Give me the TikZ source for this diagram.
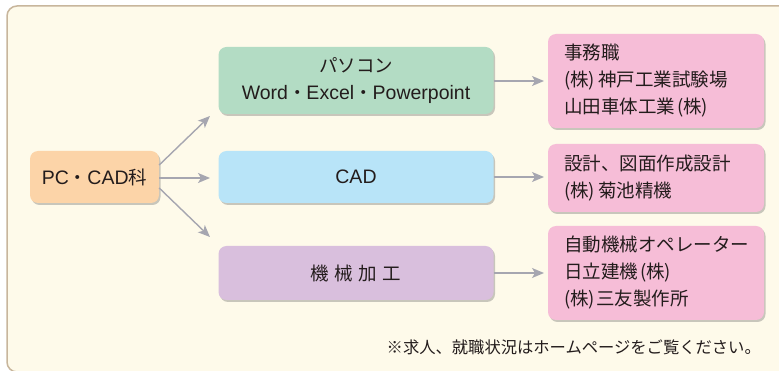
\documentclass[tikz,border=0pt]{standalone}
\usepackage{fontspec}
\setmainfont{Noto Sans CJK JP}
\newfontfamily\latfont{Liberation Sans}
\usetikzlibrary{arrows.meta,shadows}
\definecolor{bgcream}{RGB}{254,250,234}
\definecolor{bordertan}{RGB}{200,182,156}
\definecolor{pcorange}{RGB}{252,212,168}
\definecolor{pcgreen}{RGB}{179,220,196}
\definecolor{cadblue}{RGB}{184,228,248}
\definecolor{mechpurple}{RGB}{217,191,221}
\definecolor{jobpink}{RGB}{246,189,215}
\definecolor{arrowgray}{RGB}{166,166,176}
\definecolor{txt}{RGB}{35,28,28}
\newcommand{\lt}[1]{{\latfont\fontsize{19.5}{27}\selectfont #1}}
\tikzset{
  box/.style={rounded corners=8pt, text=txt, inner sep=0pt, align=center,
    font=\fontsize{18.5}{27}\selectfont,
    drop shadow={opacity=0.35, shadow xshift=1.5pt, shadow yshift=-2pt, fill=black!60}},
  jobbox/.style={box, fill=jobpink, minimum width=216pt, text width=184pt,
    inner xsep=16pt, align=left},
  conn/.style={draw=arrowgray, line width=1.4pt,
    -{Stealth[length=12pt,width=10pt,inset=3pt]}}
}
\begin{document}
\begin{tikzpicture}[x=1pt,y=-1pt]
\useasboundingbox (0,0) rectangle (779,371);
\clip (0,0) rectangle (779,371);
\fill[white] (0,0) rectangle (779,371);
\draw[fill=bgcream, draw=bordertan, line width=1.5pt, rounded corners=10pt] (7,6) rectangle (820,372);

\node[box, fill=pcorange, minimum width=129pt, minimum height=52pt] (pc) at (94.5,177) {\lt{PC}・\lt{CAD}科};
\node[box, fill=pcgreen, minimum width=275pt, minimum height=67pt] (pasokon) at (356,80.5) {パソコン\\\lt{Word}・\lt{Excel}・\lt{Powerpoint}};
\node[box, fill=cadblue, minimum width=275pt, minimum height=52pt] (cad) at (356,177) {\lt{CAD}};
\node[box, fill=mechpurple, minimum width=275pt, minimum height=54pt] (kikai) at (356,273) {機\hspace{0.3em}械\hspace{0.3em}加\hspace{0.3em}工};

\node[jobbox, minimum height=94pt] (job1) at (656,81) {事務職\\(株)\hspace{3pt}神戸工業試験場\\山田車体工業\hspace{2pt}(株)};
\node[jobbox, minimum height=68pt] (job2) at (656,178) {設計、図面作成設計\\(株)\hspace{3pt}菊池精機};
\node[jobbox, minimum height=94pt] (job3) at (656,273) {自動機械オペレーター\\日立建機\hspace{2pt}(株)\\(株)\hspace{1pt}三友製作所};

\node[text=txt, font=\fontsize{16.3}{20}\selectfont, anchor=east, inner sep=0pt] (note) at (761,347) {※求人、就職状況はホームページをご覧ください。};

\coordinate (e1) at (210,116);
\coordinate (e2) at (210,178);
\coordinate (e3) at (210,237);
\coordinate (f1) at (544,81);
\coordinate (f2) at (544,177);
\coordinate (f3) at (544,273);

\draw[conn] (pc.east |- 0,165) -- (e1);
\draw[conn] (pc.east |- 0,178) -- (e2);
\draw[conn] (pc.east |- 0,188) -- (e3);
\draw[conn] (pasokon.east |- f1) -- (f1);
\draw[conn] (cad.east |- f2) -- (f2);
\draw[conn] (kikai.east |- f3) -- (f3);
\end{tikzpicture}
\end{document}
